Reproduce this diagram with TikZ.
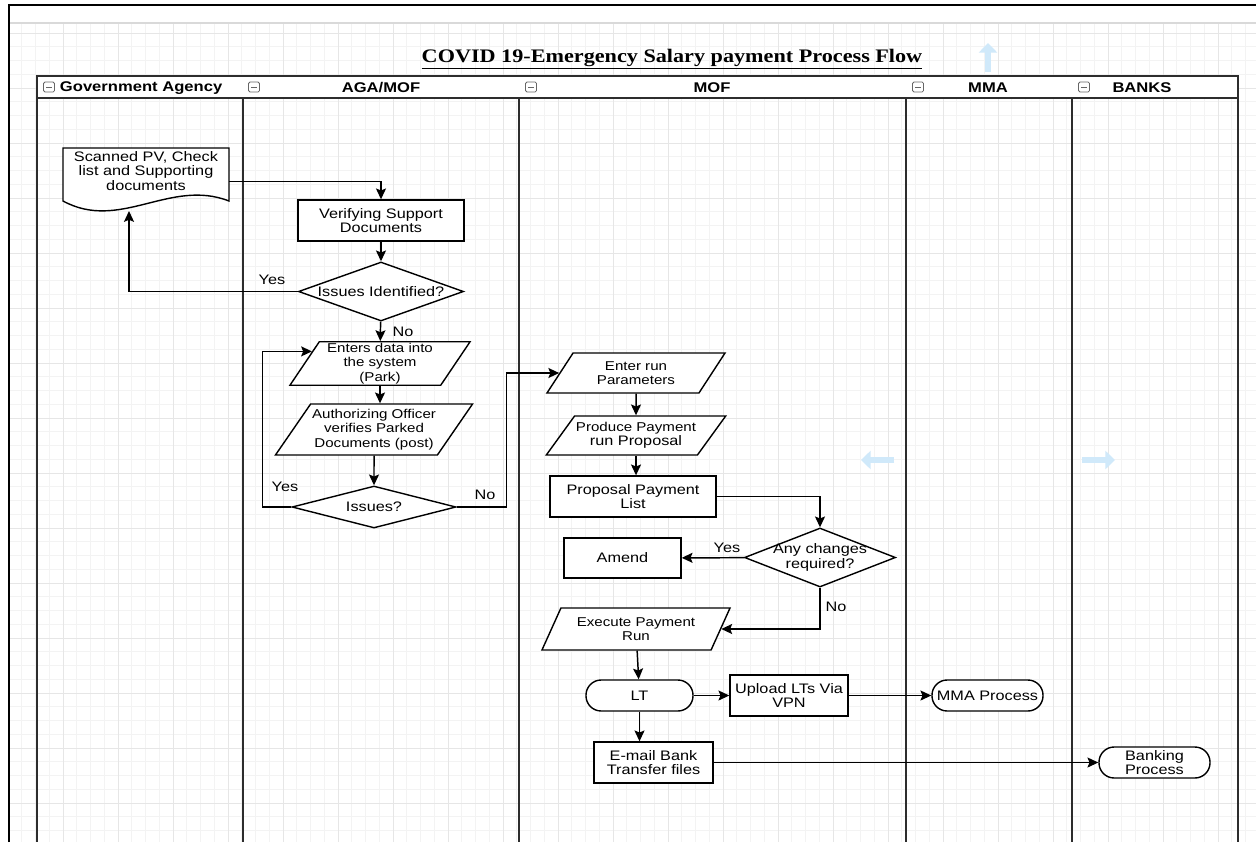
\documentclass[tikz,border=0pt]{standalone}
\usepackage{fontspec}
\setmainfont{Liberation Sans}[FakeStretch=1.18]
\newfontfamily\titlefont{Liberation Serif}[FakeStretch=1.16]
\usetikzlibrary{shapes.geometric,arrows.meta,calc}
\definecolor{gridminor}{RGB}{243,243,243}
\definecolor{gridmajor}{RGB}{230,230,230}
\definecolor{hint}{RGB}{208,233,250}
\definecolor{laneline}{RGB}{45,45,45}

\begin{document}
\begin{tikzpicture}[x=0.025cm, y=-0.025cm,
    font=\fontsize{9.8}{10.4}\selectfont,
    box/.style={draw, fill=white, line width=1pt, align=center, inner sep=1pt},
    proc/.style={box, minimum width=#1, minimum height=1.025cm},
    term/.style={box, rounded corners=0.38cm, minimum width=#1, minimum height=0.775cm},
    para/.style 2 args={box, trapezium, trapezium left angle=#1, trapezium right angle=#2,
        trapezium stretches body, font=\fontsize{9.1}{10.2}\selectfont},
    dec/.style={box, diamond, minimum width=#1, inner sep=0pt},
    arr/.style={-{Stealth[length=0.27cm, width=0.25cm, inset=0.05cm]}, line width=1.05pt},
    lbl/.style={inner sep=0pt},
    hdr/.style={font=\fontsize{10}{12}\bfseries\selectfont},
    icon/.style={draw=black!60, line width=0.6pt},
    hintarr/.style={draw=hint, line width=0.17cm, -{Triangle[length=0.24cm, width=0.45cm]}}]

\useasboundingbox (0,0) rectangle (1256,842);
\fill[white] (0,0) rectangle (1256,842);
\foreach \i in {1,...,91} \draw[gridminor, line width=0.5pt] ({8+13.75*\i},23) -- ({8+13.75*\i},842);
\foreach \i in {0,...,58} \draw[gridminor, line width=0.5pt] (9,{33+13.75*\i}) -- (1256,{33+13.75*\i});
\foreach \i in {1,...,22} \draw[gridmajor, line width=0.6pt] ({8+55*\i},23) -- ({8+55*\i},842);
\foreach \i in {0,...,14} \draw[gridmajor, line width=0.6pt] (9,{33+55*\i}) -- (1256,{33+55*\i});
\draw[black!15, line width=1pt] (9,23) -- (1256,23);
\draw[line width=2.1pt] (9,842) -- (9,5) -- (1256,5);

\node (title) at (672,59) {\titlefont\fontsize{13.6}{16}\bfseries\selectfont\underline{COVID 19-Emergency Salary payment Process Flow}};

\draw[hintarr] (988,72) -- (988,43);
\draw[hintarr] (894,460) -- (861,460);
\draw[hintarr] (1082,460) -- (1115,460);

\draw[laneline, line width=1.4pt, fill=white] (37,76) rectangle (1238,98);
\foreach \x in {37,243,519,906,1072,1238} \draw[laneline, line width=1.4pt] (\x,98) -- (\x,842);
\foreach \x in {49,254,531,918,1084} {
    \draw[icon, rounded corners=1pt] ({\x-5.5},82) rectangle ({\x+5.5},92);
    \draw[icon] ({\x-3},87) -- ({\x+3},87);
}
\node[hdr, anchor=west] (hgov) at (55,88) {Government Agency};
\node[hdr] (haga) at (381,88) {AGA/MOF};
\node[hdr] (hmof) at (712,88) {MOF};
\node[hdr] (hmma) at (988,88) {MMA};
\node[hdr] (hbank) at (1142,88) {BANKS};

\draw[box] (63,148) -- (229,148) -- (229,201) .. controls (170,178) and (120,232) .. (63,201) -- cycle;
\node (scan) [minimum width=4.15cm, minimum height=1.325cm, align=center, inner sep=0pt, text depth=5pt]
    at (146,174.5) {Scanned PV, Check\\list and Supporting\\documents};
\coordinate (scanwave) at (129,211);

\node[proc=4.15cm] (verify) at (381,220.5) {Verifying Support\\Documents};
\node[dec=4.125cm, minimum height=1.475cm, label={center:Issues Identified?}] (issid) at (381,291.5) {};
\node[para={56}{124}, minimum width=4.5cm, minimum height=1.025cm] (enters) at (380,363.5)
    {Enters data into\\the system\\(Park)};
\node[para={51}{129}, minimum width=4.8cm, minimum height=1.275cm] (auth) at (374,429.5)
    {Authorizing Officer\\verifies Parked\\Documents (post)};
\node[dec=4.1cm, minimum height=1.05cm, label={center:Issues?}] (issues) at (374,507) {};
\coordinate (entersin) at ($(enters.top left corner)!0.23!(enters.bottom left corner)$);

\node[para={45}{135}, minimum width=4.45cm, minimum height=1cm] (enterrun) at (636,373) {Enter run\\Parameters};
\node[para={46}{134}, minimum width=4.45cm, minimum height=0.975cm] (produce) at (636,435.5)
    {Produce Payment\\{\fontsize{9.8}{10.4}\selectfont run Proposal}};
\node[proc=4.15cm] (plist) at (633,496.5) {Proposal Payment\\List};
\node[dec=3.775cm, minimum height=1.475cm, label={[align=center]center:Any changes\\required?}] (anychg) at (820,557.5) {};
\node[proc=2.925cm, minimum height=1cm] (amend) at (622.5,558) {Amend};
\node[para={54}{126}, minimum width=4.7cm, minimum height=1.05cm] (execute) at (636,629) {Execute Payment\\Run};
\node[term=2.675cm] (lt) at (639.5,695.5) {LT};
\node[proc=2.95cm] (upload) at (789,695.5) {Upload LTs Via\\VPN};
\node[term=2.775cm] (mma) at (987.5,695.5) {MMA Process};
\node[proc=2.975cm] (email) at (653.5,762.5) {E-mail Bank\\Transfer files};
\node[term=2.775cm] (bank) at (1154.5,762.5) {Banking\\Process};

\draw[arr] ($(scan.east)+(0,7)$) -| (verify);
\draw[arr] (verify) -- (issid);
\draw[arr] (issid) -| (scanwave);
\draw[arr] (issid) -- (enters);
\draw[arr] (enters.south) -- (enters.south |- auth.north);
\draw[arr] (auth) -- (issues);
\draw[arr] (issues.west) -- ++(-29,0) |- (entersin);
\draw[arr] (issues.east) -- ++(50,0) |- (enterrun.west);
\draw[arr] (enterrun) -- (produce);
\draw[arr] (produce.south) -- (produce.south |- plist.north);
\draw[arr] (plist.east) -| (anychg);
\draw[arr] (anychg) -- (amend);
\draw[arr] (anychg) |- (execute);
\draw[arr] (execute) -- (lt);
\draw[arr] (lt) -- (upload);
\draw[arr] (upload) -- (mma);
\draw[arr] (lt.south) -- (lt.south |- email.north);
\draw[arr] (email) -- (bank);

\node[lbl] (yes1) at (272,280) {Yes};
\node[lbl] (no1) at (403,332) {No};
\node[lbl] (yes2) at (285,487) {Yes};
\node[lbl] (no2) at (485,495) {No};
\node[lbl] (yes3) at (727,548) {Yes};
\node[lbl] (no3) at (836,607) {No};
\end{tikzpicture}
\end{document}
